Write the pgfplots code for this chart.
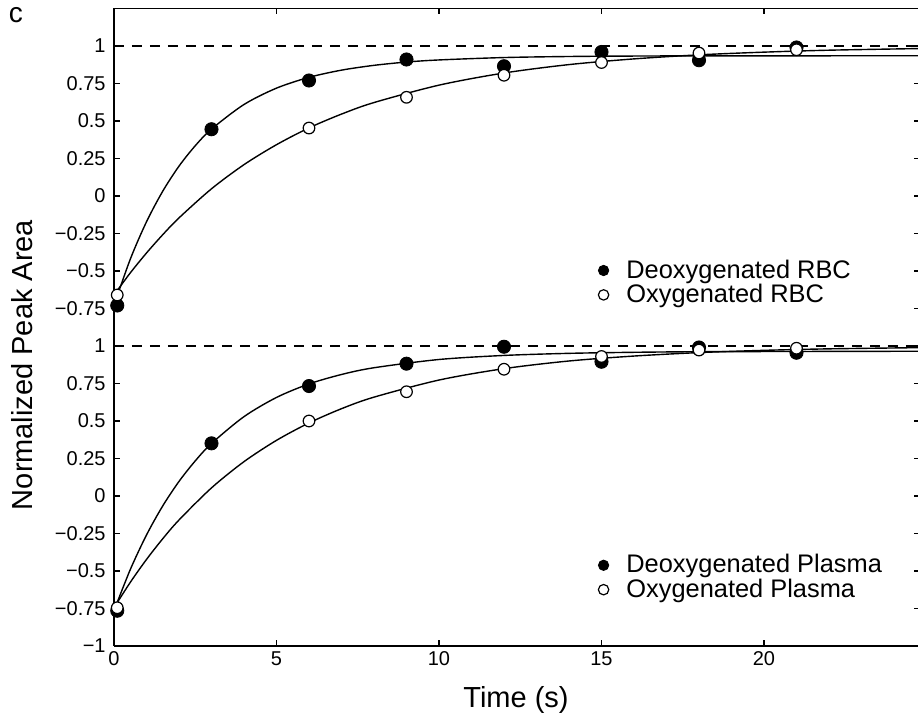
\documentclass[border=0pt]{standalone}
\usepackage{fontspec}
\setmainfont{Liberation Sans}
\usepackage{pgfplots}
\pgfplotsset{compat=1.18}

\pgfplotsset{
  panel/.style={
    scale only axis, width=403pt,
    xmin=0, xmax=24.8,
    xtick={0,5,10,15,20},
    axis y line*=box,
    tick align=inside,
    major tick length=3pt,
    axis line style={line width=0.8pt},
    every tick/.style={line width=0.6pt, black},
    tick label style={font=\fontsize{10}{11}\selectfont, inner sep=2.5pt},
    yticklabel style={xshift=-1.5pt},
    /pgf/number format/assume math mode=true,
    legend cell align=left,
    legend style={draw=none, fill=none, font=\fontsize{12.7}{13}\selectfont,
      inner sep=1pt, row sep=-2.5pt},
    legend image code/.code={\draw[#1, mark size=2.6pt] plot coordinates {(0.1cm,0cm)}; \path (0.42cm,0cm);},
  },
  fit/.style={black, line width=0.7pt, smooth, forget plot},
  deoxy/.style={only marks, mark=*, mark size=3.3pt, black},
  oxy/.style={only marks, mark=*, mark size=2.9pt, draw=black, fill=white, line width=0.6pt},
  ref/.style={black, dash pattern=on 5pt off 4pt, line width=0.6pt, forget plot},
}

\begin{document}
\begin{tikzpicture}
\useasboundingbox (-57pt,-38.5pt) rectangle (402pt,323pt);

% bottom panel: plasma
\begin{axis}[panel, at={(0,0)}, anchor=south west, height=168.75pt,
  axis x line*=bottom,
  ymin=-1, ymax=1.25,
  ytick={-1,-0.75,-0.5,-0.25,0,0.25,0.5,0.75,1},
  yticklabels={−1,−0.75,−0.5,−0.25,0,0.25,0.5,0.75,1},
  legend style={at={(0.598,0.203)}, anchor=west}]
\addplot[ref] coordinates {(0,1) (24.8,1)};
\addplot[fit] coordinates {
  (0,-0.765) (0.5,-0.491) (1,-0.260) (1.5,-0.066) (2,0.097) (2.5,0.234)
  (3,0.350) (4,0.529) (5,0.657) (6,0.747) (7,0.810) (8,0.855) (10,0.910)
  (12,0.937) (14,0.951) (16,0.958) (18,0.962) (20,0.963) (24.8,0.965)};
\addplot[fit] coordinates {
  (0,-0.745) (0.5,-0.576) (1,-0.423) (1.5,-0.285) (2,-0.160) (3,0.054)
  (4,0.229) (5,0.371) (6,0.487) (7,0.582) (8,0.659) (10,0.773) (12,0.849)
  (14,0.900) (16,0.933) (18,0.956) (20,0.971) (22,0.981) (24.8,0.989)};
\addplot[deoxy] coordinates {
  (0.1,-0.765) (3,0.351) (6,0.733) (9,0.882) (12,0.995) (15,0.895) (18,0.99) (21,0.955)};
\addlegendentry{Deoxygenated Plasma}
\addplot[oxy] coordinates {
  (0.1,-0.745) (6,0.50) (9,0.695) (12,0.845) (15,0.93) (18,0.973) (21,0.985)};
\addlegendentry{Oxygenated Plasma}
\end{axis}

% top panel: RBC
\begin{axis}[panel, at={(0,168.75pt)}, anchor=south west, height=150pt,
  axis x line*=top, xticklabels={},
  ymin=-0.75, ymax=1.25,
  ytick={-0.75,-0.5,-0.25,0,0.25,0.5,0.75,1},
  yticklabels={−0.75,−0.5,−0.25,0,0.25,0.5,0.75,1},
  legend style={at={(0.598,0.086)}, anchor=west}]
\addplot[ref] coordinates {(0,1) (24.8,1)};
\addplot[fit] coordinates {
  (0,-0.730) (0.5,-0.422) (1,-0.172) (1.5,0.032) (2,0.199) (2.5,0.335)
  (3,0.446) (4,0.610) (5,0.719) (6,0.791) (7,0.839) (8,0.871) (9,0.893)
  (10,0.907) (12,0.923) (14,0.930) (16,0.933) (18,0.934) (24.8,0.935)};
\addplot[fit] coordinates {
  (0,-0.660) (0.5,-0.513) (1,-0.380) (1.5,-0.258) (2,-0.146) (3,0.048)
  (4,0.209) (5,0.342) (6,0.454) (7,0.546) (8,0.623) (10,0.739) (12,0.820)
  (14,0.876) (16,0.914) (18,0.941) (20,0.959) (22,0.972) (24.8,0.983)};
\addplot[deoxy] coordinates {
  (0.1,-0.73) (3,0.445) (6,0.77) (9,0.91) (12,0.865) (15,0.96) (18,0.905) (21,0.99)};
\addlegendentry{Deoxygenated RBC}
\addplot[oxy] coordinates {
  (0.1,-0.66) (6,0.453) (9,0.658) (12,0.805) (15,0.89) (18,0.953) (21,0.975)};
\addlegendentry{Oxygenated RBC}
\end{axis}

\node[font=\fontsize{14}{16}\selectfont] at (-49pt,315.5pt) {c};
\node[font=\fontsize{14.5}{16}\selectfont, rotate=90] at (-46pt,140.5pt) {Normalized Peak Area};
\node[font=\fontsize{14.5}{16}\selectfont] at (201pt,-27pt) {Time (s)};
\end{tikzpicture}
\end{document}
